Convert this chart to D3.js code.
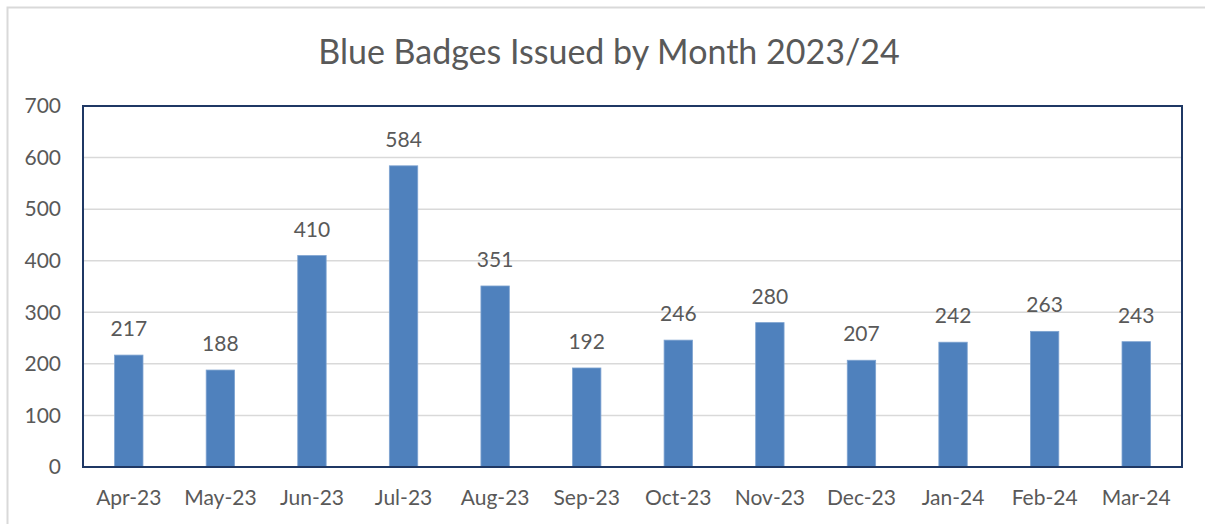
<!DOCTYPE html>
<html>
<head>
<meta charset="utf-8">
<script src="https://cdn.jsdelivr.net/npm/d3@7"></script>
<style>
  body { margin: 0; background: #fff; }
  text { font-family: Lato, "Open Sans", sans-serif; fill: #595959; }
</style>
</head>
<body>
<svg id="chart" width="1205" height="524"></svg>
<script>
// data
const months = ["Apr-23", "May-23", "Jun-23", "Jul-23", "Aug-23", "Sep-23",
                "Oct-23", "Nov-23", "Dec-23", "Jan-24", "Feb-24", "Mar-24"];
const badges = [217, 188, 410, 584, 351, 192, 246, 280, 207, 242, 263, 243];
const yTicks = [0, 100, 200, 300, 400, 500, 600, 700];
const title = "Blue Badges Issued by Month 2023/24";

const svg = d3.select("#chart");
const margins = {left: 83, top: 106, right: 23, bottom: 57};
const chartWidth = 1205 - margins.left - margins.right;
const chartHeight = 524 - margins.top - margins.bottom;

// outer chart border
svg.append("rect")
   .attr("x", 7.5).attr("y", 7.5)
   .attr("width", 1220).attr("height", 540)
   .attr("fill", "none")
   .attr("stroke", "#d9d9d9")
   .attr("stroke-width", 2);

svg.append("text")
   .attr("x", 609).attr("y", 64)
   .attr("text-anchor", "middle")
   .attr("font-size", 34)
   .text(title);

const xScale = d3.scaleBand()
                 .domain(months)
                 .range([0, chartWidth])
                 .paddingInner(0.69)
                 .paddingOuter(0.345);
const yScale = d3.scaleLinear()
                 .domain([0, 700])
                 .range([chartHeight, 0]);

const chart = svg.append("g")
                 .attr("transform", `translate(${margins.left}, ${margins.top})`);

// gridlines
chart.selectAll("line.grid")
     .data(yTicks.slice(1))
     .join("line")
     .attr("class", "grid")
     .attr("x1", 0).attr("x2", chartWidth)
     .attr("y1", d => yScale(d)).attr("y2", d => yScale(d))
     .attr("stroke", "#d9d9d9")
     .attr("stroke-width", 1.5);

// y axis labels
const yAxis = d3.axisLeft(yScale).tickValues(yTicks).tickSize(0).tickPadding(22);
const yAxisG = chart.append("g").call(yAxis);
yAxisG.select(".domain").remove();
yAxisG.selectAll("text").attr("font-size", 21).style("font-family", null);

// x axis labels
const xAxis = d3.axisBottom(xScale).tickSize(0).tickPadding(23);
const xAxisG = chart.append("g")
                    .attr("transform", `translate(0, ${chartHeight})`)
                    .call(xAxis);
xAxisG.select(".domain").remove();
xAxisG.selectAll("text").attr("font-size", 21).style("font-family", null);

// bars
chart.selectAll("rect.bar")
     .data(badges)
     .join("rect")
     .attr("class", "bar")
     .attr("x", (d, i) => xScale(months[i]))
     .attr("y", d => yScale(d))
     .attr("width", xScale.bandwidth())
     .attr("height", d => chartHeight - yScale(d))
     .attr("fill", "#4f81bd")
     .attr("stroke", "#7ea3d0")
     .attr("stroke-width", 0.8);

// value labels
chart.selectAll("text.label")
     .data(badges)
     .join("text")
     .attr("class", "label")
     .attr("x", (d, i) => xScale(months[i]) + xScale.bandwidth() / 2)
     .attr("y", d => yScale(d) - 19)
     .attr("text-anchor", "middle")
     .attr("font-size", 21)
     .text(d => d);

// category axis line
chart.append("line")
     .attr("x1", 0).attr("x2", chartWidth)
     .attr("y1", chartHeight).attr("y2", chartHeight)
     .attr("stroke", "#bfbfbf")
     .attr("stroke-width", 2);

// plot area frame
chart.append("rect")
     .attr("width", chartWidth).attr("height", chartHeight)
     .attr("fill", "none")
     .attr("stroke", "#1f3864")
     .attr("stroke-width", 2);
</script>
</body>
</html>
